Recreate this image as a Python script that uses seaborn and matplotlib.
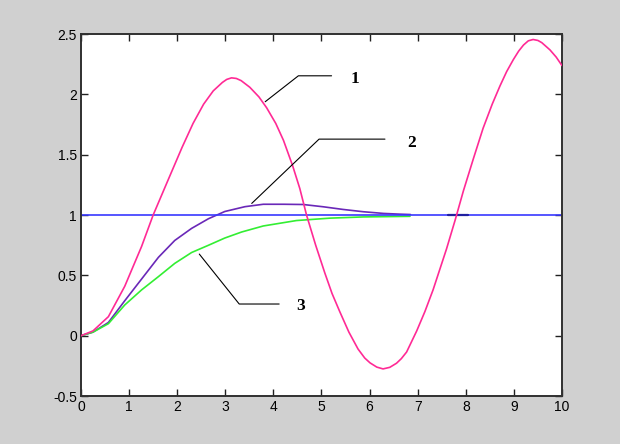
import numpy as np
import pandas as pd
import seaborn as sns
import matplotlib
matplotlib.use("Agg")
import matplotlib.pyplot as plt

# ---- data ----
t1 = [0.0, 0.25, 0.57, 0.91, 1.26, 1.50, 1.81, 2.10, 2.33, 2.55, 2.75, 2.94, 3.03,
      3.13, 3.23, 3.33, 3.51, 3.70, 3.86, 4.05, 4.21, 4.40, 4.55, 4.69, 4.88, 5.07,
      5.22, 5.38, 5.57, 5.76, 5.90, 6.01, 6.15, 6.28, 6.42, 6.56, 6.66, 6.77, 6.98,
      7.15, 7.32, 7.60, 7.78, 7.95, 8.16, 8.36, 8.55, 8.71, 8.85, 8.99, 9.10, 9.20,
      9.30, 9.40, 9.50, 9.58, 9.75, 9.88, 10.0]
y1 = [0.0, 0.04, 0.158, 0.41, 0.74, 1.0, 1.29, 1.56, 1.76, 1.92, 2.03, 2.10, 2.125,
      2.138, 2.133, 2.115, 2.06, 1.98, 1.89, 1.76, 1.62, 1.41, 1.22, 1.0, 0.75, 0.52,
      0.35, 0.20, 0.03, -0.11, -0.185, -0.225, -0.26, -0.275, -0.262, -0.228, -0.19,
      -0.135, 0.04, 0.20, 0.38, 0.72, 0.96, 1.20, 1.47, 1.72, 1.92, 2.07, 2.19, 2.29,
      2.36, 2.41, 2.445, 2.456, 2.448, 2.43, 2.37, 2.31, 2.24]

t2 = [0.0, 0.25, 0.57, 0.91, 1.26, 1.61, 1.95, 2.30, 2.65, 2.99, 3.41, 3.79, 4.21,
      4.62, 5.04, 5.45, 5.87, 6.29, 6.63, 6.85]
y2 = [0.0, 0.03, 0.11, 0.29, 0.47, 0.65, 0.79, 0.89, 0.97, 1.03, 1.07, 1.09, 1.09,
      1.088, 1.069, 1.047, 1.028, 1.014, 1.008, 1.005]

t3 = [0.0, 0.25, 0.57, 0.91, 1.26, 1.61, 1.95, 2.30, 2.65, 2.99, 3.34, 3.79, 4.48,
      5.18, 5.87, 6.84]
y3 = [0.0, 0.03, 0.10, 0.255, 0.38, 0.49, 0.60, 0.69, 0.75, 0.81, 0.86, 0.91, 0.955,
      0.975, 0.985, 0.99]

t_ref = [0.0, 10.0]
y_ref = [1.0, 1.0]

t_mark = [7.63, 8.05]
y_mark = [1.0, 1.0]

labels = ["1", "2", "3"]
lead_x = [[3.83, 4.52, 5.21], [3.55, 4.95, 6.32], [2.46, 3.29, 4.12]]
lead_y = [[1.94, 2.155, 2.155], [1.097, 1.63, 1.63], [0.677, 0.263, 0.263]]
label_x = [5.70, 6.88, 4.56]
label_y = [2.13, 1.60, 0.25]

xticks = list(range(0, 11))
yticks = [-0.5, 0, 0.5, 1, 1.5, 2, 2.5]
ytick_labels = ["-0.5", "0", "0.5", "1", "1.5", "2", "2.5"]

# ---- plotting ----
sns.set_theme(style="white")
plt.rcParams["font.family"] = ["Liberation Sans", "DejaVu Sans"]

fig = plt.figure(figsize=(6.2, 4.44), dpi=100, facecolor="#d0d0d0")
ax = fig.add_axes([0.1306, 0.108, 0.7758, 0.815])
ax.set_facecolor("white")

df1 = pd.DataFrame({"t": t1, "y": y1})
df2 = pd.DataFrame({"t": t2, "y": y2})
df3 = pd.DataFrame({"t": t3, "y": y3})
dfr = pd.DataFrame({"t": t_ref, "y": y_ref})
dfm = pd.DataFrame({"t": t_mark, "y": y_mark})

sns.lineplot(data=df1, x="t", y="y", ax=ax, color="#ff2a95", lw=1.2, sort=False, zorder=3)
sns.lineplot(data=df2, x="t", y="y", ax=ax, color="#6a28b8", lw=1.2, sort=False, zorder=2)
sns.lineplot(data=df3, x="t", y="y", ax=ax, color="#33ee33", lw=1.2, sort=False, zorder=2)
sns.lineplot(data=dfr, x="t", y="y", ax=ax, color="#3838ff", lw=1.2, sort=False, zorder=2.5)
sns.lineplot(data=dfm, x="t", y="y", ax=ax, color="#2020a0", lw=1.6, sort=False, zorder=2.6)

for lab, lx, ly, tx, ty in zip(labels, lead_x, lead_y, label_x, label_y):
    ax.plot(lx, ly, color="black", lw=0.8, zorder=4)
    ax.text(tx, ty, lab, family=["Liberation Serif", "DejaVu Serif"], weight="bold",
            fontsize=12.5, ha="center", va="center", color="black")

ax.set_xlim(0, 10)
ax.set_ylim(-0.5, 2.5)
ax.set_xticks(xticks)
ax.set_xticklabels([str(v) for v in xticks])
ax.set_yticks(yticks)
ax.set_yticklabels(ytick_labels)
ax.set_xlabel("")
ax.set_ylabel("")
ax.tick_params(direction="in", length=5, width=1, color="#202020", labelsize=10,
               labelcolor="black", top=True, right=True, bottom=True, left=True,
               pad=3)
for s in ax.spines.values():
    s.set_visible(True)
    s.set_color("#303030")
    s.set_linewidth(1.4)

fig.savefig("out.png", dpi=100, facecolor=fig.get_facecolor())
